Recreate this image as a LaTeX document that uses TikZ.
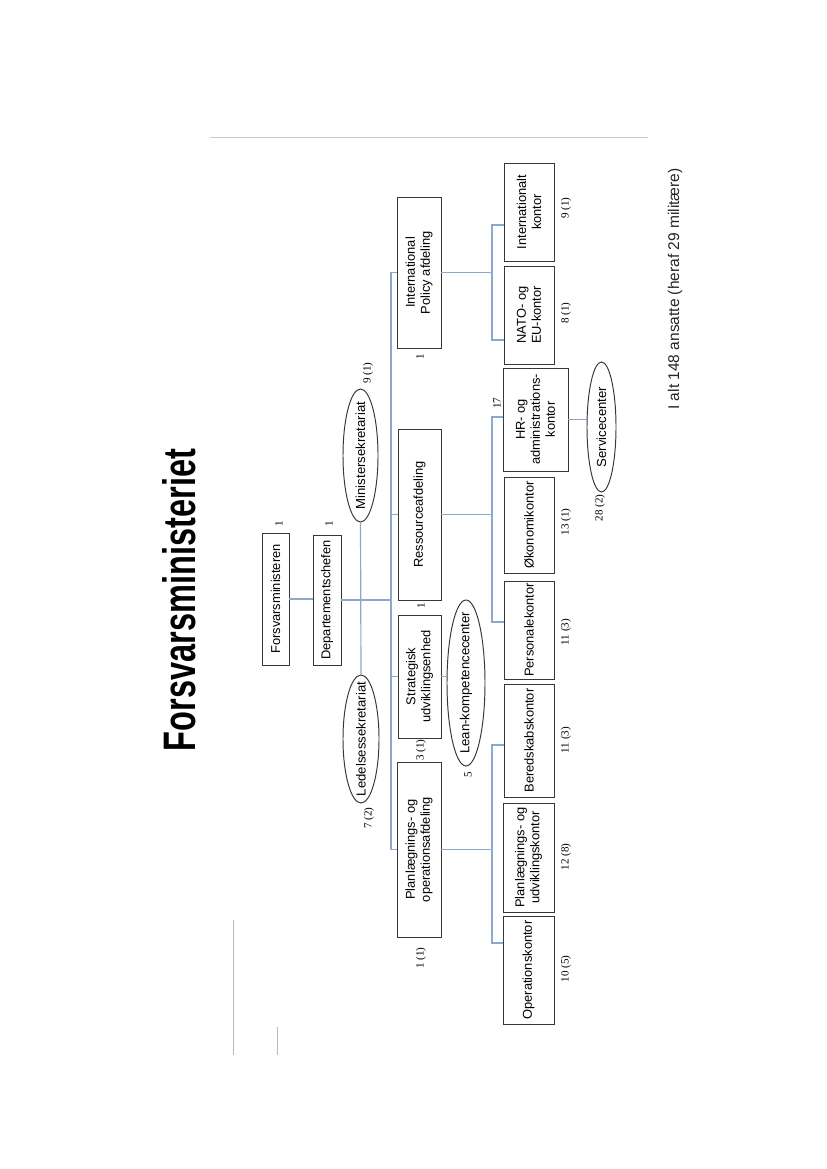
\documentclass[tikz,border=0pt]{standalone}
\usepackage{fontspec}
\setmainfont{Liberation Sans}
\newfontfamily\cntserif{Liberation Serif}
\usetikzlibrary{shapes.geometric}
\newlength\pxl
\setlength\pxl{0.25393mm}
\definecolor{connc}{RGB}{140,168,204}
\definecolor{boxc}{RGB}{55,55,55}
\definecolor{greyl}{RGB}{205,205,205}
\definecolor{greyv}{RGB}{185,185,185}
\begin{document}
\begin{tikzpicture}[x=0.25393mm,y=-0.25393mm,
  box/.style={draw=boxc, line width=0.7pt, rotate=90, inner sep=0pt, align=center,
    font=\fontsize{9.3}{10.8}\selectfont, text=black},
  ell/.style={draw=boxc, ellipse, line width=0.7pt, rotate=90, inner sep=0pt,
    font=\fontsize{9.5}{10.8}\selectfont, text=black},
  conn/.style={draw=connc, line width=0.85pt},
  cnt/.style={rotate=90, inner sep=0pt, font=\cntserif\fontsize{8}{9}\selectfont},
  bsz/.style n args={2}{minimum width=#2*\pxl, minimum height=#1*\pxl}
]
\fill[white] (0,0) rectangle (827,1169);
\useasboundingbox (0,0) rectangle (827,1169);

% decorative grey rules
\draw[greyl, line width=0.6pt] (210,137) -- (648,137);
\draw[greyv, line width=0.7pt] (233,920) -- (233,1055);
\draw[greyv, line width=0.7pt] (277,1027) -- (277,1055);

% title and total
\node[rotate=90, inner sep=0pt] (title) at (179,600)
  {\resizebox{302\pxl}{33\pxl}{\bfseries Forsvarsministeriet}};
\node[rotate=90, inner sep=0pt, font=\fontsize{11.2}{13}\selectfont, text=black!85] (total)
  at (675,289) {I alt 148 ansatte (heraf 29 militære)};

% top level
\node[box, bsz={27}{132}] (fm) at (275.5,599) {Forsvarsministeren};
\node[box, bsz={28}{130}] (dep) at (327,600) {Departementschefen};

% ellipses
\node[ell, bsz={35}{133}] (mins) at (360.5,455.5) {\makebox[0pt]{Ministersekretariat}};
\node[ell, bsz={36}{128}] (leds) at (361,739) {\makebox[0pt]{Ledelsessekretariat}};
\node[ell, bsz={38}{166}] (lean) at (466,683) {\makebox[0pt]{Lean-kompetencecenter}};
\node[ell, bsz={29}{130}] (serv) at (601.5,427) {\makebox[0pt]{Servicecenter}};

% level 2
\node[box, bsz={44}{151}] (ip) at (419,272.5) {International\\Policy afdeling};
\node[box, bsz={43}{171}] (res) at (419.5,514.5) {Ressourceafdeling};
\node[box, bsz={43}{123}] (str) at (419.5,676.5) {Strategisk\\udviklingsenhed};
\node[box, bsz={44}{175}] (pl) at (419,849.5) {Planlægnings- og\\operationsafdeling};

% level 3
\node[box, bsz={51}{108}] (ops) at (528.5,970) {Operationskontor};
\node[box, bsz={51}{109}] (puk) at (528.5,857.5) {Planlægnings- og\\udviklingskontor};
\node[box, bsz={50}{113}] (ber) at (529,740.5) {Beredskabskontor};
\node[box, bsz={50}{98}] (per) at (529,630) {Personalekontor};
\node[box, bsz={50}{96}] (oko) at (529,525) {Økonomikontor};
\node[box, bsz={65}{103}] (hr) at (535.5,419.5) {HR- og\\administrations-\\kontor};
\node[box, bsz={50}{98}] (nato) at (529,315) {NATO- og\\EU-kontor};
\node[box, bsz={50}{98}] (int) at (529,212) {Internationalt\\kontor};

% counts
\node[cnt] (c1) at (279,524) {1};
\node[cnt] (c2) at (329,524) {1};
\node[cnt] (c3) at (368,373) {9 (1)};
\node[cnt] (c4) at (369,818) {7 (2)};
\node[cnt] (c5) at (421,750) {3 (1)};
\node[cnt] (c6) at (421,606) {1};
\node[cnt] (c7) at (420,357) {1};
\node[cnt] (c8) at (421,958) {1 (1)};
\node[cnt] (c9) at (468,775) {5};
\node[cnt] (c10) at (497,403) {17};
\node[cnt] (c11) at (566,969) {10 (5)};
\node[cnt] (c12) at (566,857) {12 (8)};
\node[cnt] (c13) at (566,740) {11 (3)};
\node[cnt] (c14) at (566,632) {11 (3)};
\node[cnt] (c15) at (566,522) {13 (1)};
\node[cnt] (c16) at (600,508) {28 (2)};
\node[cnt] (c17) at (566,313) {8 (1)};
\node[cnt] (c18) at (566,208) {9 (1)};

% connectors
\coordinate (bus) at (391,0);
\draw[conn] (fm.south) -- (fm.south -| dep.north);
\draw[conn] (mins.west) -- (leds.east);
\draw[conn] (dep.south) -- (dep.south -| bus);
\draw[conn] (ip.north) -- (ip.north -| bus) -- (pl.north -| bus) -- (pl.north);
\draw[conn] (res.north) -- (res.north -| bus);
\draw[conn] (str.north) -- (str.north -| bus);
\draw[conn] (str.south) -- (str.south -| lean.north);
\draw[conn] (hr.south) -- (hr.south -| serv.north);

\coordinate (bA) at (492,745);
\coordinate (oA) at (492,943);
\draw[conn] (pl.south) -- (pl.south -| bA);
\draw[conn] (bA -| ber.north) -- (bA) -- (oA) -- (oA -| ops.north);

\coordinate (hA) at (492,417);
\coordinate (pA) at (492,622);
\draw[conn] (res.south) -- (res.south -| hA);
\draw[conn] (hA -| hr.north) -- (hA) -- (pA) -- (pA -| per.north);

\coordinate (iA) at (492,225);
\coordinate (nA) at (492,340);
\draw[conn] (ip.south) -- (ip.south -| iA);
\draw[conn] (iA -| int.north) -- (iA) -- (nA) -- (nA -| nato.north);
\end{tikzpicture}
\end{document}
